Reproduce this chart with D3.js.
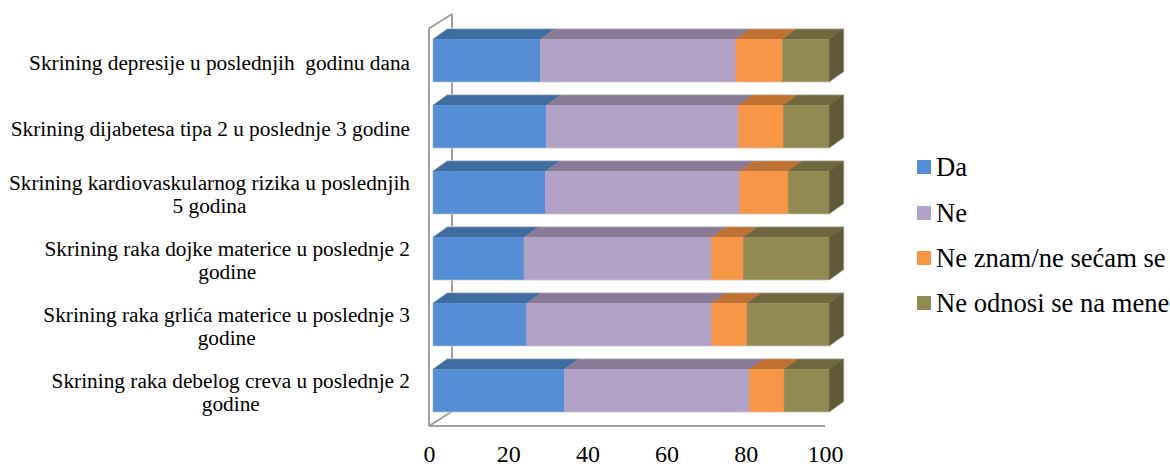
<!DOCTYPE html>
<html>
<head>
<meta charset="utf-8">
<script src="https://cdn.jsdelivr.net/npm/d3@7"></script>
<style>
  html, body { margin: 0; padding: 0; background: #ffffff; }
  svg { display: block; }
</style>
</head>
<body>
<svg id="chart" width="1170" height="466"></svg>
<script>
// Screening questions, top to bottom (each entry lists its text lines)
const categories = [
  ["Skrining depresije u poslednjih  godinu dana"],
  ["Skrining dijabetesa tipa 2 u poslednje 3 godine"],
  ["Skrining kardiovaskularnog rizika u poslednjih", "5 godina"],
  ["Skrining raka dojke materice u poslednje 2", "godine"],
  ["Skrining raka grlića materice u poslednje 3", "godine"],
  ["Skrining raka debelog creva u poslednje 2", "godine"]
];

// Answer shares (%) per question, same order as categories
const da        = [27.0, 28.5, 28.3, 22.9, 23.6, 33.1];
const ne        = [49.4, 48.6, 49.1, 47.4, 46.7, 46.7];
const neZnam    = [11.8, 11.3, 12.2,  8.0,  8.9,  8.8];
const neOdnosi  = [11.8, 11.6, 10.4, 21.7, 20.8, 11.4];

const seriesNames = ["Da", "Ne", "Ne znam/ne sećam se", "Ne odnosi se na mene"];
const xTicks = [0, 20, 40, 60, 80, 100];

const serif = "'Liberation Serif', 'Times New Roman', Times, serif";

// face colours: front, top, side
const palette = [
  { front: "#558ed5", top: "#3f6ca1", side: "#36608f" },
  { front: "#b3a2c7", top: "#8a7a95", side: "#7a6c86" },
  { front: "#f79646", top: "#c07234", side: "#a9642c" },
  { front: "#938953", top: "#6f683f", side: "#5f5a35" }
];

const svg = d3.select("#chart").attr("font-family", serif);
const catKeys = categories.map((c, i) => "c" + i);
const rows = catKeys.map((k, i) => ({
  key: k, lines: categories[i],
  "Da": da[i], "Ne": ne[i],
  "Ne znam/ne sećam se": neZnam[i], "Ne odnosi se na mene": neOdnosi[i]
}));
const stacked = d3.stack().keys(seriesNames)(rows);

// front plane of the 3-D plot box
const x = d3.scaleLinear().domain([0, 100]).range([429, 825]);
const y = d3.scaleBand().domain(catKeys).range([30, 426]).paddingInner(0.36).paddingOuter(0.18);

// depth geometry
const wallD = { dx: 23, dy: -14.5 };   // full box depth
const barOff = { dx: 4.3, dy: -2.6 };  // bar front offset inside the box
const barD = { dx: 14, dy: -10 };      // bar thickness in depth

// walls: left wall and floor edges
const wall = svg.append("g").attr("stroke", "#a0a0a0").attr("stroke-width", 2).attr("fill", "none");
const x0 = x(0), yTop = 28.5, yBot = 426;
wall.append("line").attr("x1", x0 + wallD.dx).attr("y1", yTop + wallD.dy)
  .attr("x2", x0 + wallD.dx).attr("y2", yBot + wallD.dy);
wall.append("line").attr("x1", x0).attr("y1", yTop).attr("x2", x0 + wallD.dx).attr("y2", yTop + wallD.dy);
wall.append("line").attr("x1", x0).attr("y1", yTop).attr("x2", x0).attr("y2", yBot);
wall.append("line").attr("x1", x0).attr("y1", yBot).attr("x2", x0 + wallD.dx).attr("y2", yBot + wallD.dy);
wall.append("line").attr("x1", x0).attr("y1", yBot).attr("x2", x(100)).attr("y2", yBot);

// bars
const bars = svg.append("g");
const poly = pts => pts.map(p => p.join(",")).join(" ");

rows.forEach((row, ri) => {
  const g = bars.append("g");
  const fy = y(row.key) + barOff.dy;
  const h = y.bandwidth();
  const xs = v => x(v) + barOff.dx;
  const L = xs(0), R = xs(100);

  // faint silhouette outline
  g.append("polygon")
    .attr("points", poly([[L, fy], [L + barD.dx, fy + barD.dy], [R + barD.dx, fy + barD.dy],
                          [R + barD.dx, fy + h + barD.dy], [R, fy + h], [L, fy + h]]))
    .attr("fill", "none").attr("stroke", "#d6d6d6").attr("stroke-width", 2);

  stacked.forEach((s, si) => {
    const d = s[ri];
    const a = xs(d[0]), b = xs(d[1]);
    const col = palette[si];
    // top face
    g.append("polygon")
      .attr("points", poly([[a, fy], [a + barD.dx, fy + barD.dy], [b + barD.dx, fy + barD.dy], [b, fy]]))
      .attr("fill", col.top).attr("stroke", col.top).attr("stroke-width", 0.5);
    // front face
    g.append("rect").attr("x", a).attr("y", fy).attr("width", b - a).attr("height", h)
      .attr("fill", col.front).attr("stroke", col.front).attr("stroke-width", 0.5);
    // right side face on the last segment
    if (si === stacked.length - 1) {
      g.append("polygon")
        .attr("points", poly([[b, fy], [b + barD.dx, fy + barD.dy], [b + barD.dx, fy + h + barD.dy], [b, fy + h]]))
        .attr("fill", col.side).attr("stroke", col.side).attr("stroke-width", 0.5);
    }
  });
});

// category labels: centred lines, block right-aligned next to the wall
const labelRight = 410, labelSize = 21.3, lineH = 23.5;
const labels = svg.append("g");
rows.forEach(row => {
  const cy = y(row.key) + y.bandwidth() / 2 + 6.5;
  const t = labels.append("text")
    .attr("text-anchor", "middle")
    .attr("font-family", serif).attr("font-size", labelSize).attr("fill", "#000")
    .style("white-space", "pre");
  const n = row.lines.length;
  row.lines.forEach((ln, i) => {
    t.append("tspan").attr("y", cy + (i - (n - 1) / 2) * lineH).text(ln);
  });
  let w = 0;
  t.selectAll("tspan").each(function () { w = Math.max(w, this.getComputedTextLength()); });
  t.selectAll("tspan").attr("x", labelRight - w / 2);
});

// bottom axis
const axis = svg.append("g")
  .attr("transform", `translate(0,${yBot})`)
  .call(d3.axisBottom(x).tickValues(xTicks).tickSize(0).tickPadding(19).tickFormat(d3.format("d")));
axis.attr("font-family", serif).attr("font-size", 24);
axis.select(".domain").remove();
axis.selectAll("text").attr("font-family", serif).attr("font-size", 24).attr("fill", "#000");

// legend
const legend = svg.append("g");
const legY = [160, 206, 251, 296];
seriesNames.forEach((name, i) => {
  legend.append("rect").attr("x", 917).attr("y", legY[i]).attr("width", 14).attr("height", 14)
    .attr("fill", palette[i].front);
  legend.append("text").attr("x", 936).attr("y", legY[i] + 16)
    .attr("font-family", serif).attr("font-size", 26.6).attr("fill", "#000").text(name);
});
</script>
</body>
</html>
